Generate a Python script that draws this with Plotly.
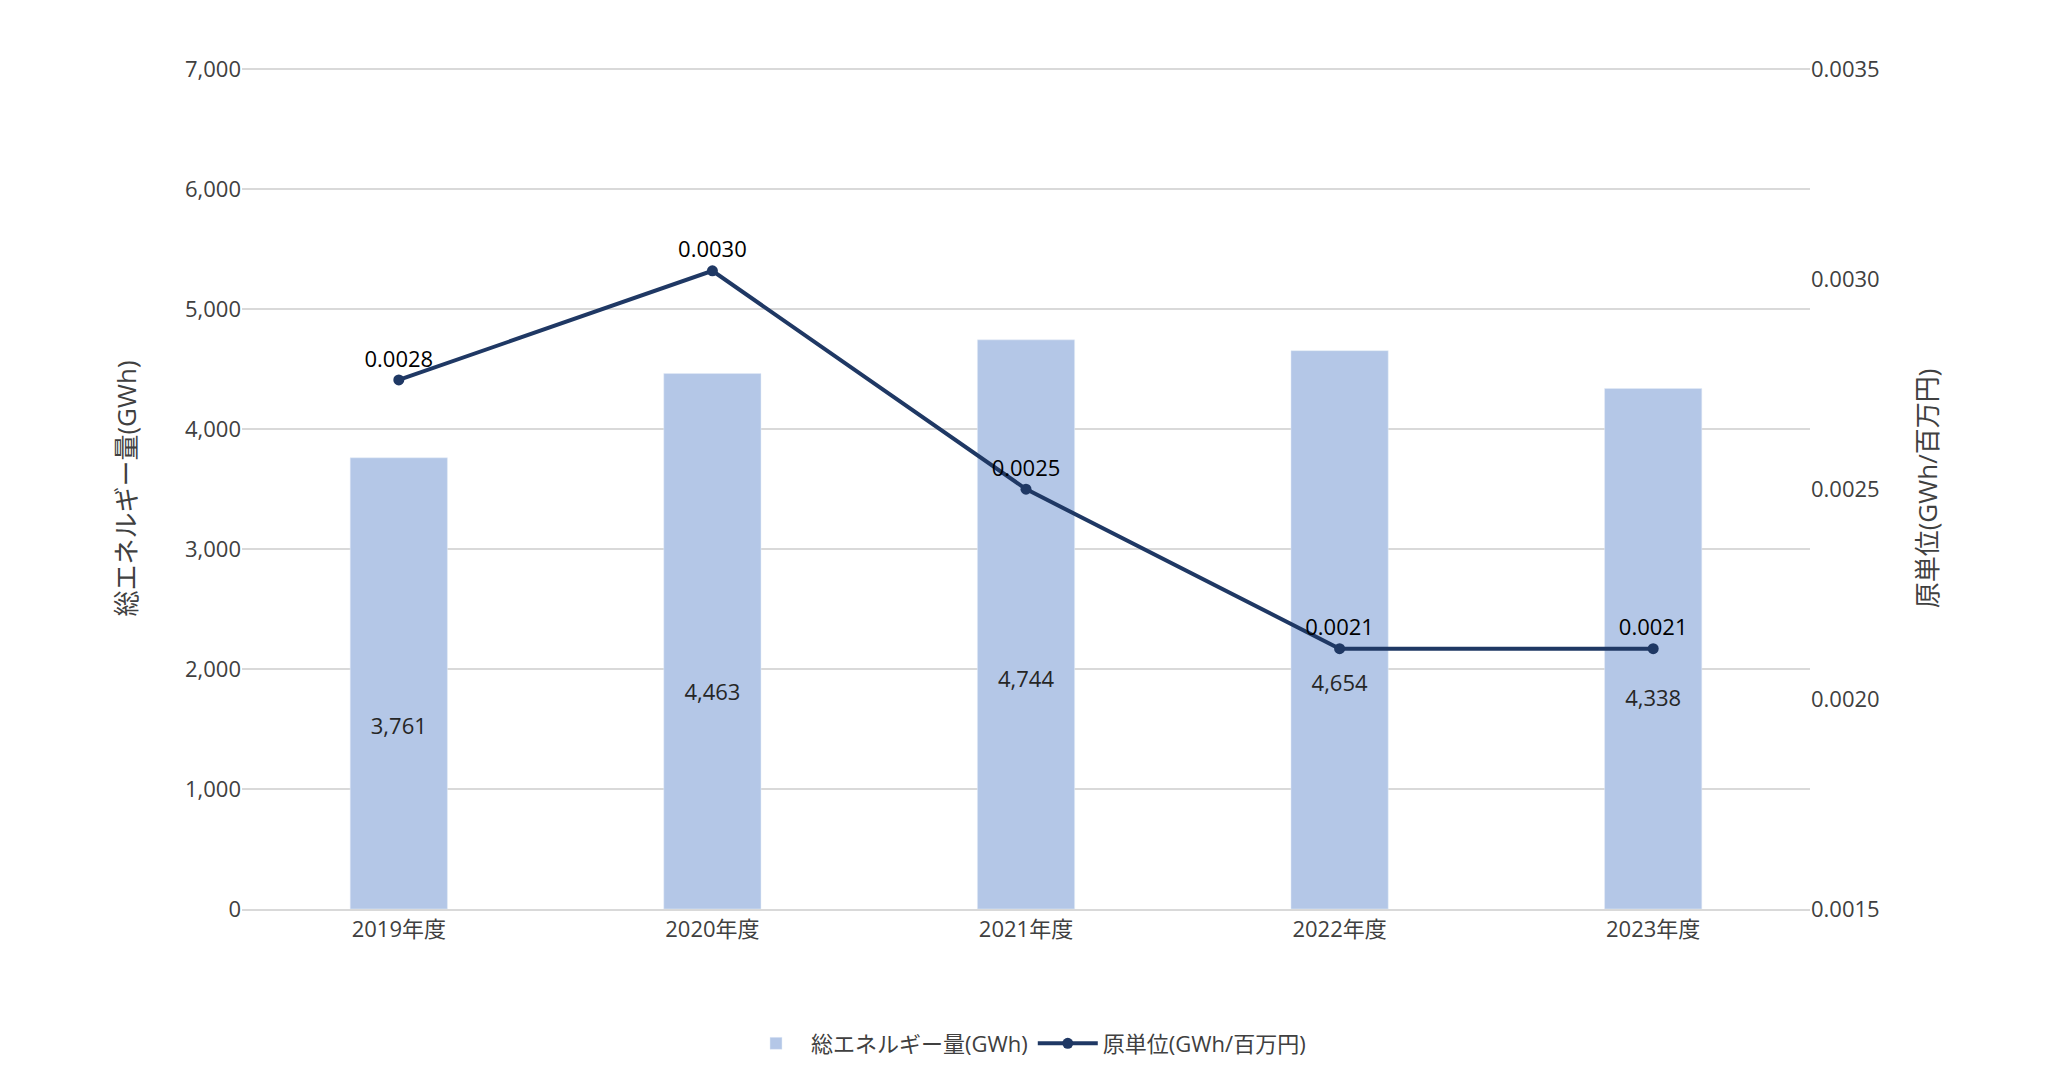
import plotly.graph_objects as go

years = ["2019年度", "2020年度", "2021年度", "2022年度", "2023年度"]
energy = [3761, 4463, 4744, 4654, 4338]
intensity = [0.00276, 0.00302, 0.00250, 0.00212, 0.00212]

font = "Open Sans, Noto Sans CJK JP, sans-serif"
fig = go.Figure()
fig.add_trace(go.Bar(x=years, y=energy, name="総エネルギー量(GWh)", marker_color="#b4c7e7",
                     width=0.31, yaxis="y"))
fig.add_trace(go.Scatter(x=years, y=[v * 0.4 for v in energy], mode="text",
                         text=[f"{v:,}" for v in energy], textfont=dict(size=22, color="#262626"),
                         showlegend=False, hoverinfo="skip", yaxis="y"))
fig.add_trace(go.Scatter(x=years, y=intensity, name="原単位(GWh/百万円)", mode="lines+markers+text",
                         line=dict(color="#1f3864", width=4), marker=dict(size=11, color="#1f3864"),
                         text=[f"{v:.4f}" for v in intensity], textposition="top center",
                         textfont=dict(size=22, color="#000000"), yaxis="y2"))
fig.update_layout(
    width=2048, height=1081, plot_bgcolor="white", paper_bgcolor="white",
    font=dict(family=font, size=22, color="#404040"),
    margin=dict(l=234, r=246, t=60, b=180),
    bargap=0.69,
    xaxis=dict(showline=True, linecolor="#d9d9d9", linewidth=2, ticks=""),
    yaxis=dict(range=[0, 7010], tickvals=[0, 1000, 2000, 3000, 4000, 5000, 6000, 7000], tickformat=",",
               gridcolor="#d9d9d9", gridwidth=1.5,
               zeroline=False, title=dict(text="総エネルギー量(GWh)", standoff=40), ticksuffix="   "),
    yaxis2=dict(range=[0.0015, 0.003503], tickvals=[0.0015, 0.002, 0.0025, 0.003, 0.0035], tickformat=".4f",
                overlaying="y", side="right",
                showgrid=False, zeroline=False, title=dict(text="原単位(GWh/百万円)", standoff=40),
                tickprefix="   "),
    legend=dict(orientation="h", x=0.5, xanchor="center", y=-0.16, yanchor="middle",
                font=dict(size=22, color="#404040"), itemwidth=60),
)
fig.write_html("out.html")
